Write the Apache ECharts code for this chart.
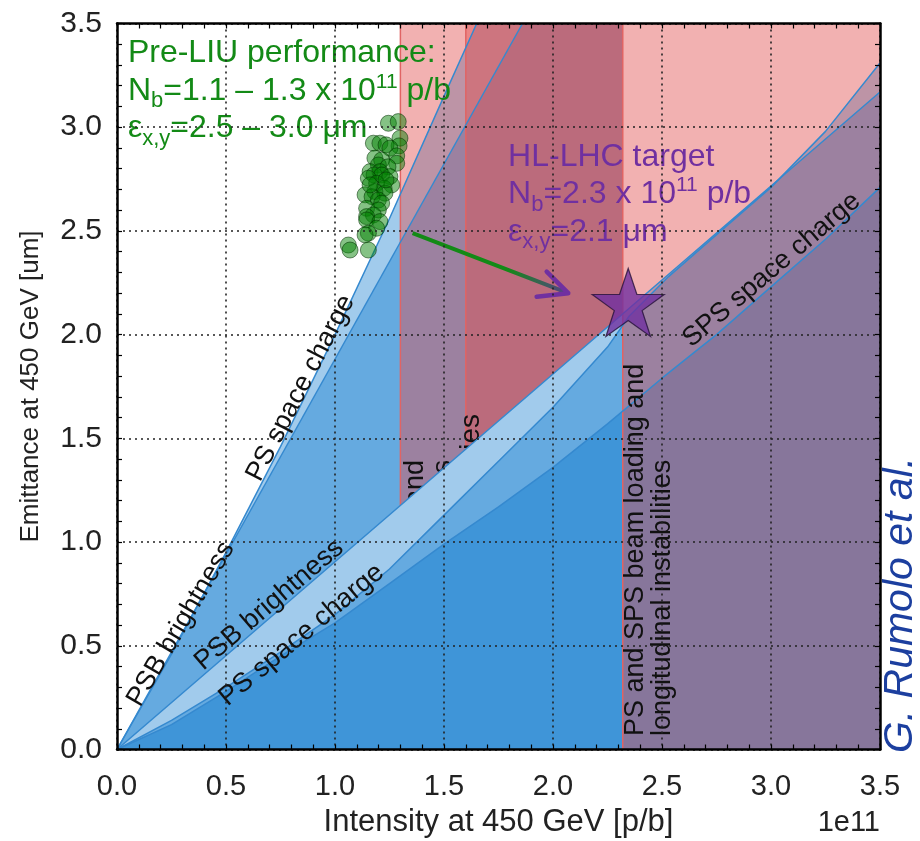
<!DOCTYPE html>
<html><head><meta charset="utf-8">
<script src="https://cdn.jsdelivr.net/npm/echarts@6/dist/echarts.min.js"></script>
<style>html,body{margin:0;padding:0;background:#fff}#main{width:920px;height:841px}</style>
</head><body><div id="main"></div>
<script>
const FONT = "'Liberation Sans', Arial, Helvetica, sans-serif";

// ---- axes ----
const xMin = 0, xMax = 3.5, yMin = 0, yMax = 3.5, tickStep = 0.5;

// ---- limit curves: [intensity (1e11 p/b), emittance (um)] ----
const psbBrightnessUpper = [[0, 0], [1.86, 3.5]];
const psSpaceChargeUpper = [[0, 0], [0.25, 0.46], [0.5, 0.95], [0.75, 1.46], [1.0, 2.0], [1.25, 2.56], [1.5, 3.15], [1.65, 3.5]];
const psbBrightnessLower = [[0, 0], [1.0, 0.905], [2.0, 1.81], [3.5, 3.17]];
const psSpaceChargeLower = [[0, 0], [0.25, 0.14], [0.5, 0.30], [0.75, 0.47], [1.0, 0.65], [1.25, 0.87], [1.5, 1.13], [1.75, 1.39], [2.0, 1.65], [2.25, 1.94], [2.35, 2.09], [2.53, 2.28], [2.77, 2.50], [3.0, 2.71], [3.25, 2.98], [3.5, 3.31]];
const spsSpaceCharge = [[0, 0], [0.25, 0.12], [0.5, 0.28], [0.75, 0.45], [1.0, 0.61], [1.25, 0.80], [1.5, 0.99], [1.75, 1.17], [2.0, 1.36], [2.25, 1.57], [2.5, 1.79], [2.75, 2.00], [3.0, 2.23], [3.25, 2.46], [3.5, 2.71]];

// ---- intensity limits (beam loading / longitudinal instabilities) ----
const limitPreLIU = 1.3, limitMid = 1.6, limitBeamLoading = 2.32;

// ---- measured pre-LIU beams ----
const preLIU = [
  [1.245,3.019],[1.290,3.027],[1.298,2.947],[1.294,2.910],[1.176,2.923],[1.206,2.923],[1.234,2.915],
  [1.252,2.899],[1.283,2.862],[1.183,2.851],[1.214,2.842],[1.199,2.818],[1.283,2.826],[1.243,2.809],
  [1.161,2.786],[1.206,2.786],[1.179,2.770],[1.214,2.770],[1.252,2.762],[1.153,2.754],[1.191,2.730],
  [1.260,2.722],[1.225,2.706],[1.183,2.690],[1.229,2.682],[1.138,2.674],[1.170,2.665],[1.199,2.649],
  [1.214,2.634],[1.145,2.609],[1.199,2.601],[1.176,2.577],[1.145,2.569],[1.145,2.553],[1.206,2.545],
  [1.191,2.513],[1.153,2.489],[1.138,2.481],[1.061,2.432],[1.069,2.408],[1.153,2.408],[1.234,2.746],[1.161,2.722]
];
const hlLhcTarget = [[2.345, 2.155]];
const arrowShaft = [[1.356, 2.489], [2.07, 2.2]];
const arrowHead = [[1.925, 2.183], [2.07, 2.2], [1.971, 2.304]];

// ---- colours ----
const blueFill = 'rgba(0,114,203,0.37)';
const pinkFill = 'rgba(226,78,78,0.445)';
const edgeRed = '#e06464';
const strokeBlue = '#3589cf';
const green = '#138a16';
const purple = '#7030a0';

function area(data, color, z) {
  return {type: 'line', data, symbol: 'none', z, silent: true, animation: false,
    lineStyle: {width: 0, opacity: 0}, areaStyle: {color, opacity: 1, origin: 'start'}};
}
function stroke(data, color, width, z) {
  return {type: 'line', data, symbol: 'none', z, silent: true, animation: false,
    lineStyle: {color, width}};
}
function band(x0, x1, z) {
  return area([[x0, yMax], [x1, yMax]], pinkFill, z);
}
function vline(x, z) {
  return stroke([[x, yMin], [x, yMax]], edgeRed, 1.5, z);
}

const axisCommon = {
  type: 'value', min: xMin, max: xMax, interval: tickStep, z: 10,
  axisLine: {show: true, onZero: false, lineStyle: {color: '#000', width: 2.5}},
  axisTick: {show: true, inside: true, length: 5, lineStyle: {color: '#000', width: 1.2}},
  minorTick: {show: true, splitNumber: 5, length: 5, lineStyle: {color: '#000', width: 1.2}},
  splitLine: {show: false}
};

const option = {
  animation: false,
  backgroundColor: '#fff',
  grid: {left: 117, right: 40, top: 23.5, bottom: 91.5, containLabel: false, outerBoundsMode: 'none'},
  xAxis: [
    Object.assign({}, axisCommon, {
      position: 'bottom',
      name: 'Intensity at 450 GeV [p/b]', nameLocation: 'middle', nameGap: 57, nameMoveOverlap: false,
      nameTextStyle: {fontSize: 31, fontFamily: FONT, color: '#222'},
      axisLabel: {show: true, fontSize: 29, fontFamily: FONT, color: '#222', margin: 23, formatter: v => v.toFixed(1)},
      splitLine: {show: true, lineStyle: {color: '#222', type: [2, 4], width: 1.6}}
    }),
    Object.assign({}, axisCommon, {position: 'top', axisLabel: {show: false}})
  ],
  yAxis: [
    Object.assign({}, axisCommon, {
      min: yMin, max: yMax, position: 'left',
      name: 'Emittance at 450 GeV [um]', nameLocation: 'middle', nameGap: 73, nameMoveOverlap: false,
      nameTextStyle: {fontSize: 26, fontFamily: FONT, color: '#222'},
      axisLabel: {show: true, fontSize: 30, fontFamily: FONT, color: '#222', margin: 15, formatter: v => v.toFixed(1)},
      splitLine: {show: true, lineStyle: {color: '#222', type: [2, 4], width: 1.6}}
    }),
    Object.assign({}, axisCommon, {min: yMin, max: yMax, position: 'right', axisLabel: {show: false}})
  ],
  series: [
    area(psbBrightnessUpper.concat([[limitBeamLoading, yMax]]), blueFill, 1),
    area(psSpaceChargeUpper.concat([[limitBeamLoading, yMax]]), blueFill, 1),
    band(limitPreLIU, limitBeamLoading, 2),
    band(limitMid, limitBeamLoading, 2),
    vline(limitPreLIU, 2), vline(limitMid, 2),
    area(psbBrightnessLower, '#ffffff', 4),
    area(psbBrightnessLower, blueFill, 5),
    area(psSpaceChargeLower, blueFill, 5),
    area(spsSpaceCharge, blueFill, 5),
    band(limitBeamLoading, xMax, 7),
    vline(limitBeamLoading, 7),
    stroke(psbBrightnessUpper, strokeBlue, 1.5, 8),
    stroke(psSpaceChargeUpper, strokeBlue, 1.5, 8),
    stroke(psbBrightnessLower, strokeBlue, 1.5, 8),
    stroke(psSpaceChargeLower, strokeBlue, 1.5, 8),
    stroke(spsSpaceCharge, strokeBlue, 1.5, 8),
    {type: 'scatter', data: preLIU, z: 9, symbol: 'circle', symbolSize: 16, silent: true,
      itemStyle: {color: 'rgba(0,128,0,0.6)', borderColor: 'rgba(0,45,0,0.65)', borderWidth: 1}},
    {type: 'line', data: arrowShaft, symbol: 'none', z: 9, silent: true,
      lineStyle: {width: 4, color: new echarts.graphic.LinearGradient(0, 0, 1, 0, [
        {offset: 0, color: green}, {offset: 0.6, color: green}, {offset: 1, color: '#5b3e8c'}])}},
    {type: 'line', data: arrowHead, symbol: 'none', z: 9, silent: true,
      lineStyle: {width: 4.5, color: purple, cap: 'round', join: 'round'}},
    {type: 'scatter', data: hlLhcTarget, z: 9, silent: true,
      symbol: 'path://M50,0 L61.8,35.1 L98.9,35.1 L68.9,56.9 L80.3,91.9 L50,70.2 L19.7,91.9 L31.1,56.9 L1.1,35.1 L38.2,35.1 Z',
      symbolSize: [72, 68], itemStyle: {color: purple, borderColor: '#25123a', borderWidth: 1.2}}
  ]
};

const chart = echarts.init(document.getElementById('main'));
chart.setOption(option);

// ---- annotations ----
const lineLabels = [
  {text: 'PSB brightness', at: [0.293, 0.605], angle: 59.4},
  {text: 'PS space charge', at: [0.843, 1.742], angle: 62.6},
  {text: 'PSB brightness', at: [0.698, 0.697], angle: 40.4},
  {text: 'PS space charge', at: [0.847, 0.552], angle: 39.9},
  {text: 'SPS space charge', at: [3.003, 2.312], angle: 40.3}
];
const hiddenLabels = [
  {text: 'beam loading and\nlongitudinal instabilities', at: [1.303, 1.396], size: 27},
  {text: 'longitudinal instabilities', at: [1.56, 1.618], size: 28}
];
const beamLoadingLabel = {text: 'PS and SPS beam loading and\nlongitudinal instabilities', at: [2.319, 0.065]};
const greenAnchor = [0.05, 3.445];
const purpleAnchor = [1.794, 2.947];

const px = p => chart.convertToPixel({seriesIndex: 0}, p);
const richFor = color => ({
  a: {fontSize: 32, fontFamily: FONT, fill: color, lineHeight: 37.5},
  sb: {fontSize: 22, fontFamily: FONT, fill: color, lineHeight: 37.5, padding: [20, 0, 0, 0]},
  sp: {fontSize: 21, fontFamily: FONT, fill: color, lineHeight: 37.5, padding: [0, 0, 18, 0]}
});

const graphics = [];
lineLabels.forEach(l => {
  const p = px(l.at);
  graphics.push({type: 'text', x: p[0], y: p[1], rotation: l.angle * Math.PI / 180, z: 9, silent: true,
    style: {text: l.text, fontSize: 27, fontFamily: FONT, fill: '#111', align: 'center', verticalAlign: 'middle'}});
});
hiddenLabels.forEach(l => {
  const p = px(l.at);
  graphics.push({type: 'text', x: p[0], y: p[1], rotation: Math.PI / 2, z: 3, silent: true,
    style: {text: l.text, fontSize: l.size, lineHeight: 28, fontFamily: FONT, fill: '#111', align: 'right', verticalAlign: 'top'}});
});
{
  const p = px(beamLoadingLabel.at);
  graphics.push({type: 'text', x: p[0], y: p[1], rotation: Math.PI / 2, z: 9, silent: true,
    style: {text: beamLoadingLabel.text, fontSize: 27, lineHeight: 27, fontFamily: FONT, fill: '#111', align: 'left', verticalAlign: 'top'}});
}
{
  const p = px(greenAnchor);
  graphics.push({type: 'text', x: p[0], y: p[1], z: 9, silent: true,
    style: {text: '{a|Pre-LIU performance:}\n{a|N}{sb|b}{a|=1.1 – 1.3 x 10}{sp|11}{a| p/b}\n{a|ε}{sb|x,y}{a|=2.5 – 3.0 μm}',
      rich: richFor(green), align: 'left', verticalAlign: 'top', fill: green}});
}
{
  const p = px(purpleAnchor);
  graphics.push({type: 'text', x: p[0], y: p[1], z: 9, silent: true,
    style: {text: '{a|HL-LHC target}\n{a|N}{sb|b}{a|=2.3 x 10}{sp|11}{a| p/b}\n{a|ε}{sb|x,y}{a|=2.1 μm}',
      rich: richFor(purple), align: 'left', verticalAlign: 'top', fill: purple}});
}
graphics.push({type: 'text', x: 880, y: 808, z: 9, silent: true,
  style: {text: '1e11', fontSize: 29, fontFamily: FONT, fill: '#222', align: 'right', verticalAlign: 'top'}});
graphics.push({type: 'text', x: 901, y: 605, rotation: Math.PI / 2, z: 9, silent: true,
  style: {text: 'G. Rumolo et al.', fontSize: 41, fontStyle: 'italic', fontFamily: FONT, fill: '#1c3f9f', align: 'center', verticalAlign: 'middle'}});

chart.setOption({graphic: graphics});
</script></body></html>
